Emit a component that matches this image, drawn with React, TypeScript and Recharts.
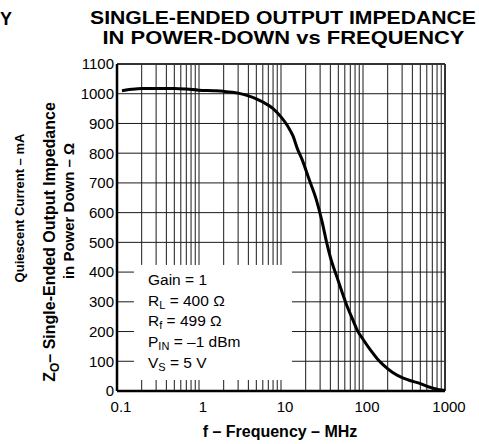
import React from 'react';
import { LineChart, Line, XAxis, YAxis, ReferenceLine } from 'recharts';

// curve: frequency (MHz) vs Zo (ohm)
const freqs = [0.115, 0.15, 0.2, 0.3, 0.5, 0.7, 1, 1.5, 2, 3, 4, 5, 6, 8, 10, 12, 14, 16, 18, 22, 27, 32, 36, 40, 48, 56, 64, 75, 85, 100, 123, 150, 178, 230, 310, 400, 500, 600, 730, 850, 1000];
const impedance = [1010, 1015, 1018, 1018, 1018, 1016, 1012, 1010, 1008, 1002, 993, 983, 972, 950, 922, 892, 858, 812, 780, 712, 643, 565, 500, 450, 384, 330, 285, 240, 205, 174, 138, 108, 87, 62, 43, 33, 25, 16, 9, 4, 2];

const xTicks = [0.1, 1, 10, 100, 1000];
const yTicks = [0, 100, 200, 300, 400, 500, 600, 700, 800, 900, 1000, 1100];

// minor log grid and horizontal grid levels
const gridFreqs = [0.2, 0.3, 0.4, 0.5, 0.6, 0.7, 0.8, 0.9, 1, 2, 3, 4, 5, 6, 7, 8, 9, 10, 20, 30, 40, 50, 60, 70, 80, 90, 100, 200, 300, 400, 500, 600, 700, 800, 900];
const gridLevels = [100, 200, 300, 400, 500, 600, 700, 800, 900, 1000];

// white area behind the conditions text (data coords)
const boxF = [0.161, 13.6];
const boxZ = [37, 424];

const data = freqs.map((f, i) => ({ f, z: impedance[i] }));

const FONT = '"Liberation Sans", Arial, Helvetica, sans-serif';
const GRID = '#1a1a1a';

type Seg = [{ x: number; y: number }, { x: number; y: number }];

const vSegs: Seg[] = [];
gridFreqs.forEach((f) => {
  if (f > boxF[0] && f < boxF[1]) {
    vSegs.push([{ x: f, y: 0 }, { x: f, y: boxZ[0] }]);
    vSegs.push([{ x: f, y: boxZ[1] }, { x: f, y: 1100 }]);
  } else {
    vSegs.push([{ x: f, y: 0 }, { x: f, y: 1100 }]);
  }
});
const hSegs: Seg[] = [];
gridLevels.forEach((z) => {
  if (z > boxZ[0] && z < boxZ[1]) {
    hSegs.push([{ x: 0.1, y: z }, { x: boxF[0], y: z }]);
    hSegs.push([{ x: boxF[1], y: z }, { x: 1000, y: z }]);
  } else {
    hSegs.push([{ x: 0.1, y: z }, { x: 1000, y: z }]);
  }
});

const Sub: React.FC<{ children: React.ReactNode }> = ({ children }) => (
  <tspan fontSize={11} dy={3}>{children}</tspan>
);

export default function App() {
  return (
    <div style={{ position: 'absolute', left: 0, top: 0, width: 479, height: 444, background: '#fff', fontFamily: FONT }}>
      <LineChart width={479} height={444} data={data} margin={{ top: 64, right: 34, bottom: 23, left: 57 }}>
        <XAxis
          dataKey="f"
          type="number"
          scale="log"
          domain={[0.1, 1000]}
          ticks={xTicks}
          allowDataOverflow
          tickLine={false}
          tickSize={0}
          tickMargin={10}
          height={30}
          axisLine={{ stroke: '#000', strokeWidth: 2.5 }}
          tick={{ fontSize: 15, fill: '#000', fontFamily: FONT, dx: 4 }}
        />
        <YAxis
          type="number"
          domain={[0, 1100]}
          ticks={yTicks}
          width={60}
          tickLine={false}
          tickSize={0}
          tickMargin={3}
          axisLine={{ stroke: '#000', strokeWidth: 2.5 }}
          tick={{ fontSize: 15, fill: '#000', fontFamily: FONT }}
        />
        {vSegs.map((s, i) => (
          <ReferenceLine key={`v${i}`} segment={s} stroke={GRID} strokeWidth={1} />
        ))}
        {hSegs.map((s, i) => (
          <ReferenceLine key={`h${i}`} segment={s} stroke={GRID} strokeWidth={1} />
        ))}
        <ReferenceLine y={1100} stroke="#333" strokeWidth={2} />
        <ReferenceLine x={1000} stroke="#333" strokeWidth={2} />
        <Line
          dataKey="z"
          type="monotone"
          stroke="#000"
          strokeWidth={3}
          dot={false}
          isAnimationActive={false}
          zIndex={1000}
        />
      </LineChart>

      <svg width={479} height={444} style={{ position: 'absolute', left: 0, top: 0, pointerEvents: 'none' }} fontFamily={FONT}>
        {/* neighbouring chart remnants */}
        <text x={0} y={25} fontSize={18} fontWeight="bold">Y</text>
        <text x={24} y={208} transform="rotate(-90 24 208)" textAnchor="middle" fontSize={13} fontWeight="bold">
          Quiescent Current – mA
        </text>

        <text x={283} y={24} textAnchor="middle" fontSize={18.5} fontWeight="bold" textLength={386} lengthAdjust="spacingAndGlyphs">
          SINGLE-ENDED OUTPUT IMPEDANCE
        </text>
        <text x={283.5} y={44} textAnchor="middle" fontSize={18.5} fontWeight="bold" textLength={362} lengthAdjust="spacingAndGlyphs">
          IN POWER-DOWN vs FREQUENCY
        </text>

        <text x={55} y={242} transform="rotate(-90 55 242)" textAnchor="middle" fontSize={16} fontWeight="bold">
          Z<tspan fontSize={12} dy={4}>O</tspan><tspan dy={-4}>– Single-Ended Output Impedance</tspan>
        </text>
        <text x={74} y={211} transform="rotate(-90 74 211)" textAnchor="middle" fontSize={15} fontWeight="bold">
          in Power Down – Ω
        </text>

        <text x={280} y={437} textAnchor="middle" fontSize={16} fontWeight="bold">f – Frequency – MHz</text>

        <g fontSize={15.5} fill="#000">
          <text x={148} y={285}>Gain = 1</text>
          <text x={148} y={306}>R<Sub>L</Sub><tspan dy={-3}> = 400 Ω</tspan></text>
          <text x={148} y={326}>R<Sub>f</Sub><tspan dy={-3}> = 499 Ω</tspan></text>
          <text x={148} y={347}>P<Sub>IN</Sub><tspan dy={-3}> = –1 dBm</tspan></text>
          <text x={148} y={368}>V<Sub>S</Sub><tspan dy={-3}> = 5 V</tspan></text>
        </g>
      </svg>
    </div>
  );
}
